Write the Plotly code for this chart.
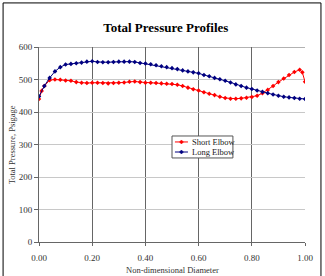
import plotly.graph_objects as go

diam_long = [0.00, 0.02, 0.04, 0.06, 0.08, 0.10, 0.12, 0.14, 0.16, 0.18, 0.20, 0.22, 0.24, 0.26, 0.28,
             0.30, 0.32, 0.34, 0.36, 0.38, 0.40, 0.42, 0.44, 0.46, 0.48, 0.50, 0.52, 0.54, 0.56, 0.58,
             0.60, 0.62, 0.64, 0.66, 0.68, 0.70, 0.72, 0.74, 0.76, 0.78, 0.80, 0.82, 0.84, 0.86, 0.88,
             0.90, 0.92, 0.94, 0.96, 0.98, 1.00]
long_elbow = [448, 480, 505, 525, 538, 546, 548, 550, 552, 555, 556, 554, 553, 553, 554,
              555, 555, 555, 554, 551, 549, 547, 544, 541, 538, 535, 532, 528, 525, 522,
              519, 514, 510, 505, 501, 496, 491, 485, 480, 475, 471, 466, 462, 458, 454,
              450, 447, 445, 443, 441, 440]

diam_short = [0.00, 0.01, 0.02, 0.04, 0.06, 0.08, 0.10, 0.12, 0.14, 0.16, 0.18, 0.20, 0.22, 0.24, 0.26,
              0.28, 0.30, 0.32, 0.34, 0.36, 0.38, 0.40, 0.42, 0.44, 0.46, 0.48, 0.50, 0.52, 0.54, 0.56,
              0.58, 0.60, 0.62, 0.64, 0.66, 0.68, 0.70, 0.72, 0.74, 0.76, 0.78, 0.80, 0.82, 0.84, 0.86,
              0.88, 0.90, 0.92, 0.94, 0.96, 0.98, 0.99, 1.00]
short_elbow = [440, 465, 480, 498, 500, 499, 497, 496, 492, 490, 489, 490, 490, 489, 488,
               489, 490, 491, 493, 494, 492, 490, 490, 489, 488, 487, 486, 484, 480, 475,
               470, 466, 461, 456, 452, 447, 443, 441, 441, 442, 444, 446, 450, 458, 468,
               480, 492, 503, 514, 523, 530, 522, 493]

series_names = ["Short Elbow", "Long Elbow"]
series_colors = ["#ff0000", "#000080"]

x_ticks = [0.0, 0.2, 0.4, 0.6, 0.8, 1.0]
x_labels = ["0.00", "0.20", "0.40", "0.60", "0.80", "1.00"]
y_ticks = [0, 100, 200, 300, 400, 500, 600]
x_title = "Non-dimensional Diameter"
y_title = "Total Pressure, Psigage"

SERIF = "Liberation Serif, Times New Roman, serif"
TXT = "#333333"

fig = go.Figure()
for xs, ys, nm, col in [(diam_short, short_elbow, series_names[0], series_colors[0]),
                        (diam_long, long_elbow, series_names[1], series_colors[1])]:
    fig.add_trace(go.Scatter(x=xs, y=ys, name=nm, mode="lines+markers", showlegend=False,
                             line=dict(color=col, width=1),
                             marker=dict(symbol="diamond", size=3.5, color=col)))

for yv in [300, 600]:
    fig.add_shape(type="line", xref="paper", x0=0, x1=1, yref="y", y0=yv, y1=yv,
                  line=dict(color="#666666", width=1), layer="below")
# chart outer border
fig.add_shape(type="rect", xref="paper", yref="paper", x0=-0.135, x1=1.06, y0=-0.25, y1=1.226,
              line=dict(color="#000000", width=1))

# legend box (drawn manually for a compact Excel-like look)
fig.add_shape(type="rect", xref="paper", yref="paper", x0=0.5, x1=0.729, y0=0.431, y1=0.5436,
              line=dict(color="#555555", width=1), fillcolor="white", layer="above")
for i, (nm, col) in enumerate(zip(series_names, series_colors)):
    yc = 0.513 - i * 0.0515
    fig.add_shape(type="line", xref="paper", yref="paper", x0=0.511, x1=0.560, y0=yc, y1=yc,
                  line=dict(color=col, width=1), layer="above")
    dx, dy = 0.0075, 0.0103
    xc = 0.5355
    fig.add_shape(type="path", xref="paper", yref="paper",
                  path=f"M {xc-dx} {yc} L {xc} {yc+dy} L {xc+dx} {yc} L {xc} {yc-dy} Z",
                  line=dict(color=col, width=0.5), fillcolor=col, layer="above")
    fig.add_annotation(xref="paper", yref="paper", x=0.566, y=yc, text=nm, showarrow=False,
                       xanchor="left", yanchor="middle",
                       font=dict(family=SERIF, size=8.5, color="#222222"))

# axis titles
fig.add_annotation(xref="paper", yref="paper", x=0.5, y=-0.143, text=x_title, showarrow=False,
                   xanchor="center", yanchor="middle", font=dict(family=SERIF, size=8.5, color=TXT))
fig.add_annotation(xref="paper", yref="paper", x=-0.102, y=0.5, text=y_title, showarrow=False,
                   textangle=-90, xanchor="center", yanchor="middle",
                   font=dict(family=SERIF, size=8.5, color=TXT))

fig.update_layout(
    width=325, height=276,
    margin=dict(l=39, r=20, t=47, b=34),
    paper_bgcolor="white", plot_bgcolor="white",
    title=dict(text="<b>Total Pressure Profiles</b>", x=0.51, xanchor="center", y=0.9, yanchor="middle",
               font=dict(family=SERIF, size=13, color="#000000")),
    font=dict(family=SERIF, size=8, color=TXT),
    showlegend=False,
    xaxis=dict(range=[0, 1], tickvals=x_ticks, ticktext=x_labels, showgrid=True,
               gridcolor="#666666", gridwidth=1, zeroline=False, automargin=False,
               showline=True, linecolor="#666666", linewidth=1,
               ticks="outside", ticklen=3, tickcolor="#666666", ticklabelstandoff=4,
               tickfont=dict(family=SERIF, size=9, color=TXT)),
    yaxis=dict(range=[0, 600], tickvals=y_ticks, showgrid=True,
               gridcolor="#c8c8c8", gridwidth=1, zeroline=False, automargin=False,
               showline=True, linecolor="#666666", linewidth=1,
               ticks="outside", ticklen=4, tickcolor="#666666",
               tickfont=dict(family=SERIF, size=9, color=TXT)),
)

fig.write_html("out.html")
